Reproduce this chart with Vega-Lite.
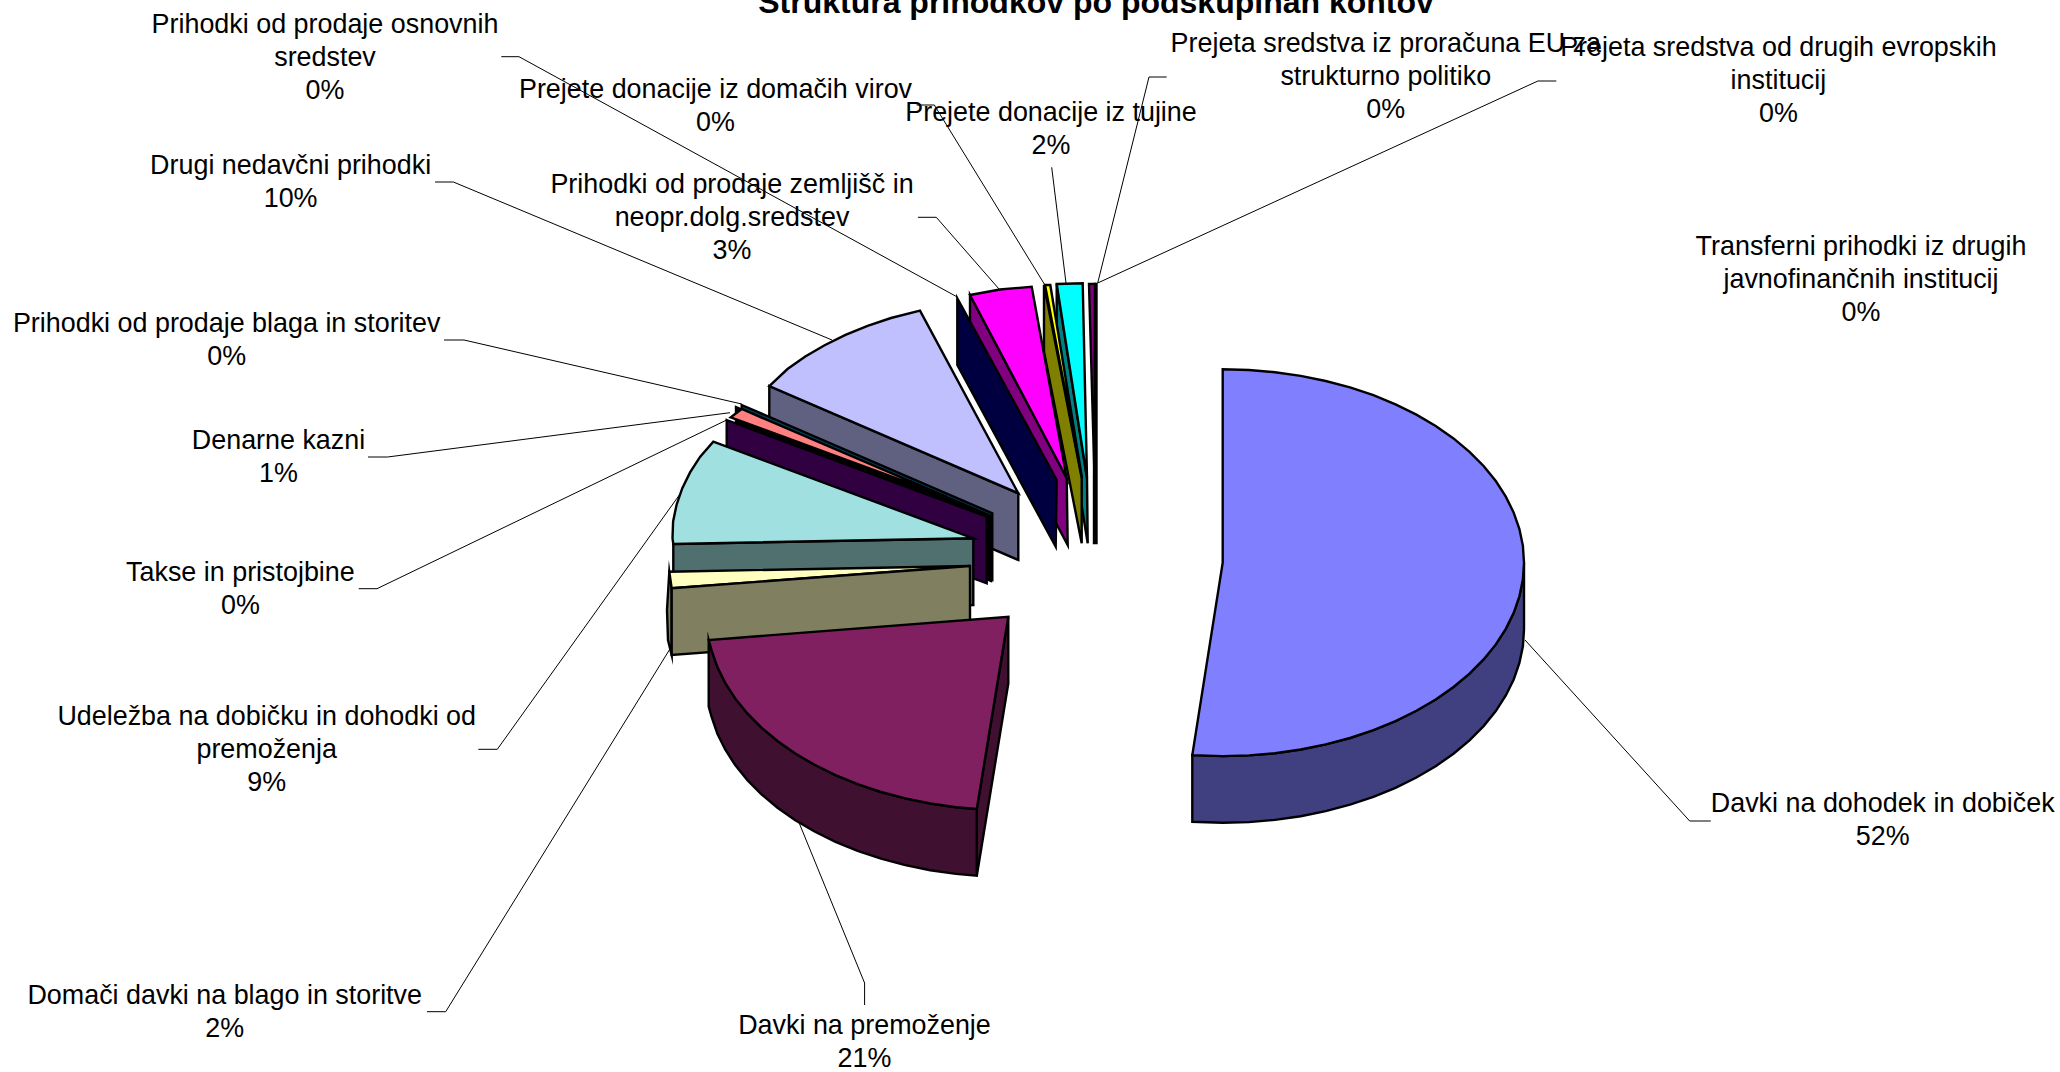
{"$schema":"https://vega.github.io/schema/vega-lite/v6.json","width":2060,"height":1072,"autosize":"none","padding":0,"background":"white","view":{"stroke":null},
"datasets":{
"labels":[
{"name":"Davki na dohodek in dobiček","pct":52,"label":"Davki na dohodek in dobiček\n52%","x":1882.7,"y":791},
{"name":"Davki na premoženje","pct":21,"label":"Davki na premoženje\n21%","x":864.5,"y":1013},
{"name":"Domači davki na blago in storitve","pct":2,"label":"Domači davki na blago in storitve\n2%","x":224.7,"y":983},
{"name":"Udeležba na dobičku in dohodki od premoženja","pct":9,"label":"Udeležba na dobičku in dohodki od\npremoženja\n9%","x":266.7,"y":704},
{"name":"Takse in pristojbine","pct":0,"label":"Takse in pristojbine\n0%","x":240.4,"y":559.5},
{"name":"Denarne kazni","pct":1,"label":"Denarne kazni\n1%","x":278.5,"y":428},
{"name":"Prihodki od prodaje blaga in storitev","pct":0,"label":"Prihodki od prodaje blaga in storitev\n0%","x":226.7,"y":311},
{"name":"Drugi nedavčni prihodki","pct":10,"label":"Drugi nedavčni prihodki\n10%","x":290.6,"y":153},
{"name":"Prihodki od prodaje osnovnih sredstev","pct":0,"label":"Prihodki od prodaje osnovnih\nsredstev\n0%","x":325,"y":11.5},
{"name":"Prihodki od prodaje zemljišč in neopr.dolg.sredstev","pct":3,"label":"Prihodki od prodaje zemljišč in\nneopr.dolg.sredstev\n3%","x":732,"y":172},
{"name":"Prejete donacije iz domačih virov","pct":0,"label":"Prejete donacije iz domačih virov\n0%","x":715.5,"y":77},
{"name":"Prejete donacije iz tujine","pct":2,"label":"Prejete donacije iz tujine\n2%","x":1051,"y":100},
{"name":"Prejeta sredstva iz proračuna EU za strukturno politiko","pct":0,"label":"Prejeta sredstva iz proračuna EU za\nstrukturno politiko\n0%","x":1385.8,"y":31},
{"name":"Prejeta sredstva od drugih evropskih institucij","pct":0,"label":"Prejeta sredstva od drugih evropskih\ninstitucij\n0%","x":1778.4,"y":35},
{"name":"Transferni prihodki iz drugih javnofinančnih institucij","pct":0,"label":"Transferni prihodki iz drugih\njavnofinančnih institucij\n0%","x":1861,"y":234}
],
"leaders":[
{"k":"a","i":1,"x":1710.8,"y":821},{"k":"a","i":2,"x":1689.7,"y":821},{"k":"a","i":3,"x":1525,"y":640},
{"k":"b","i":1,"x":864.6,"y":1005},{"k":"b","i":2,"x":864.6,"y":983},{"k":"b","i":3,"x":799.3,"y":823.3},
{"k":"c","i":1,"x":427,"y":1011.7},{"k":"c","i":2,"x":445.7,"y":1011.7},{"k":"c","i":3,"x":669.3,"y":650},
{"k":"d","i":1,"x":478.3,"y":749.3},{"k":"d","i":2,"x":497.3,"y":749.3},{"k":"d","i":3,"x":681.7,"y":491.7},
{"k":"e","i":1,"x":358.7,"y":588.7},{"k":"e","i":2,"x":377,"y":588.7},{"k":"e","i":3,"x":726.7,"y":420},
{"k":"f","i":1,"x":368,"y":457},{"k":"f","i":2,"x":387.6,"y":457},{"k":"f","i":3,"x":730,"y":412.7},
{"k":"g","i":1,"x":444,"y":340},{"k":"g","i":2,"x":464,"y":340},{"k":"g","i":3,"x":741.7,"y":404},
{"k":"h","i":1,"x":435,"y":182},{"k":"h","i":2,"x":453.4,"y":182},{"k":"h","i":3,"x":832,"y":340},
{"k":"j","i":1,"x":501.3,"y":56.7},{"k":"j","i":2,"x":519,"y":56.7},{"k":"j","i":3,"x":957.3,"y":297},
{"k":"l","i":1,"x":917.9,"y":217.3},{"k":"l","i":2,"x":936.3,"y":217.3},{"k":"l","i":3,"x":999,"y":289},
{"k":"m","i":1,"x":916.6,"y":105},{"k":"m","i":2,"x":934.3,"y":105},{"k":"m","i":3,"x":1044.3,"y":284},
{"k":"n","i":1,"x":1051.7,"y":167.3},{"k":"n","i":2,"x":1066,"y":283},
{"k":"o","i":1,"x":1166.7,"y":77},{"k":"o","i":2,"x":1149,"y":77},{"k":"o","i":3,"x":1097.7,"y":283},
{"k":"p","i":1,"x":1556.3,"y":81},{"k":"p","i":2,"x":1537.9,"y":81},{"k":"p","i":3,"x":1097.7,"y":283}
],
"shapes":[
{"part":"drugi_rob","i":1,"x":769.3,"y":386},{"part":"drugi_rob","i":2,"x":1018.3,"y":493.3},{"part":"drugi_rob","i":3,"x":1018.3,"y":560},{"part":"drugi_rob","i":4,"x":769.3,"y":452.7},
{"part":"drugi_vrh","i":1,"x":1018.3,"y":493.3},{"part":"drugi_vrh","i":2,"x":920,"y":310.7},{"part":"drugi_vrh","i":3,"x":891,"y":318},{"part":"drugi_vrh","i":4,"x":867.6,"y":325.8},{"part":"drugi_vrh","i":5,"x":845.5,"y":334.9},{"part":"drugi_vrh","i":6,"x":824.6,"y":345.2},{"part":"drugi_vrh","i":7,"x":805.3,"y":356.5},{"part":"drugi_vrh","i":8,"x":787.5,"y":369},{"part":"drugi_vrh","i":9,"x":769.3,"y":386},
{"part":"blaga_rob","i":1,"x":741.7,"y":405},{"part":"blaga_rob","i":2,"x":992.3,"y":513.3},{"part":"blaga_rob","i":3,"x":992.3,"y":580},{"part":"blaga_rob","i":4,"x":741.7,"y":471.7},
{"part":"kazni_rob","i":1,"x":736,"y":407},{"part":"kazni_rob","i":2,"x":991,"y":516},{"part":"kazni_rob","i":3,"x":991,"y":581},{"part":"kazni_rob","i":4,"x":736,"y":478},
{"part":"kazni_vrh","i":1,"x":741.7,"y":409},{"part":"kazni_vrh","i":2,"x":730.7,"y":417.3},{"part":"kazni_vrh","i":3,"x":946.7,"y":497},
{"part":"takse_rob","i":1,"x":726.7,"y":420},{"part":"takse_rob","i":2,"x":986.7,"y":516.7},{"part":"takse_rob","i":3,"x":986.7,"y":583.3},{"part":"takse_rob","i":4,"x":726.7,"y":486.7},
{"part":"udelezba_rob","i":1,"x":673.3,"y":544},{"part":"udelezba_rob","i":2,"x":973.3,"y":538.3},{"part":"udelezba_rob","i":3,"x":973.3,"y":605},{"part":"udelezba_rob","i":4,"x":673.3,"y":610.7},
{"part":"udelezba_vrh","i":1,"x":973.3,"y":538.3},{"part":"udelezba_vrh","i":2,"x":713.3,"y":441.7},{"part":"udelezba_vrh","i":3,"x":700.2,"y":456.6},{"part":"udelezba_vrh","i":4,"x":690.2,"y":472.2},{"part":"udelezba_vrh","i":5,"x":682.3,"y":488.2},{"part":"udelezba_vrh","i":6,"x":676.6,"y":504.7},{"part":"udelezba_vrh","i":7,"x":673.1,"y":521.4},{"part":"udelezba_vrh","i":8,"x":672.5,"y":538.3},{"part":"udelezba_vrh","i":9,"x":673.3,"y":544},
{"part":"domaci_lok","i":1,"x":669.3,"y":571.7},{"part":"domaci_lok","i":2,"x":671.7,"y":588.3},{"part":"domaci_lok","i":3,"x":671.7,"y":655},{"part":"domaci_lok","i":4,"x":668,"y":640},{"part":"domaci_lok","i":5,"x":667,"y":610},
{"part":"domaci_vrh","i":1,"x":970,"y":566},{"part":"domaci_vrh","i":2,"x":669.3,"y":571.7},{"part":"domaci_vrh","i":3,"x":671.7,"y":588.3},
{"part":"domaci_rob","i":1,"x":671.7,"y":588.3},{"part":"domaci_rob","i":2,"x":970,"y":566},{"part":"domaci_rob","i":3,"x":970,"y":632.7},{"part":"domaci_rob","i":4,"x":671.7,"y":655},
{"part":"premozenje_notr","i":1,"x":1008.3,"y":616.7},{"part":"premozenje_notr","i":2,"x":1008.3,"y":683.4},{"part":"premozenje_notr","i":3,"x":976.8,"y":875.7},{"part":"premozenje_notr","i":4,"x":976.8,"y":809},
{"part":"premozenje_rob","i":1,"x":708.7,"y":640},{"part":"premozenje_rob","i":2,"x":711.6,"y":650.3},{"part":"premozenje_rob","i":3,"x":717.3,"y":666.8},{"part":"premozenje_rob","i":4,"x":725.2,"y":682.8},{"part":"premozenje_rob","i":5,"x":735.2,"y":698.4},{"part":"premozenje_rob","i":6,"x":747.4,"y":713.4},{"part":"premozenje_rob","i":7,"x":761.5,"y":727.6},{"part":"premozenje_rob","i":8,"x":777.5,"y":741},{"part":"premozenje_rob","i":9,"x":795.3,"y":753.5},{"part":"premozenje_rob","i":10,"x":814.6,"y":764.8},{"part":"premozenje_rob","i":11,"x":835.5,"y":775.1},{"part":"premozenje_rob","i":12,"x":857.6,"y":784.2},{"part":"premozenje_rob","i":13,"x":881,"y":792},{"part":"premozenje_rob","i":14,"x":905.3,"y":798.4},{"part":"premozenje_rob","i":15,"x":930.3,"y":803.5},{"part":"premozenje_rob","i":16,"x":956,"y":807.2},{"part":"premozenje_rob","i":17,"x":976.8,"y":809},{"part":"premozenje_rob","i":18,"x":976.8,"y":875.7},{"part":"premozenje_rob","i":19,"x":956,"y":873.9},{"part":"premozenje_rob","i":20,"x":930.3,"y":870.2},{"part":"premozenje_rob","i":21,"x":905.3,"y":865.1},{"part":"premozenje_rob","i":22,"x":881,"y":858.7},{"part":"premozenje_rob","i":23,"x":857.6,"y":850.9},{"part":"premozenje_rob","i":24,"x":835.5,"y":841.8},{"part":"premozenje_rob","i":25,"x":814.6,"y":831.5},{"part":"premozenje_rob","i":26,"x":795.3,"y":820.2},{"part":"premozenje_rob","i":27,"x":777.5,"y":807.7},{"part":"premozenje_rob","i":28,"x":761.5,"y":794.3},{"part":"premozenje_rob","i":29,"x":747.4,"y":780.1},{"part":"premozenje_rob","i":30,"x":735.2,"y":765.1},{"part":"premozenje_rob","i":31,"x":725.2,"y":749.5},{"part":"premozenje_rob","i":32,"x":717.3,"y":733.5},{"part":"premozenje_rob","i":33,"x":711.6,"y":717},{"part":"premozenje_rob","i":34,"x":708.7,"y":706.7},
{"part":"premozenje_vrh","i":1,"x":1008.3,"y":616.7},{"part":"premozenje_vrh","i":2,"x":976.8,"y":809},{"part":"premozenje_vrh","i":3,"x":956,"y":807.2},{"part":"premozenje_vrh","i":4,"x":930.3,"y":803.5},{"part":"premozenje_vrh","i":5,"x":905.3,"y":798.4},{"part":"premozenje_vrh","i":6,"x":881,"y":792},{"part":"premozenje_vrh","i":7,"x":857.6,"y":784.2},{"part":"premozenje_vrh","i":8,"x":835.5,"y":775.1},{"part":"premozenje_vrh","i":9,"x":814.6,"y":764.8},{"part":"premozenje_vrh","i":10,"x":795.3,"y":753.5},{"part":"premozenje_vrh","i":11,"x":777.5,"y":741},{"part":"premozenje_vrh","i":12,"x":761.5,"y":727.6},{"part":"premozenje_vrh","i":13,"x":747.4,"y":713.4},{"part":"premozenje_vrh","i":14,"x":735.2,"y":698.4},{"part":"premozenje_vrh","i":15,"x":725.2,"y":682.8},{"part":"premozenje_vrh","i":16,"x":717.3,"y":666.8},{"part":"premozenje_vrh","i":17,"x":711.6,"y":650.3},{"part":"premozenje_vrh","i":18,"x":708.7,"y":640},
{"part":"eu_rob","i":1,"x":1095,"y":284},{"part":"eu_rob","i":2,"x":1096.5,"y":284},{"part":"eu_rob","i":3,"x":1096.5,"y":543},{"part":"eu_rob","i":4,"x":1094,"y":543},{"part":"eu_rob","i":5,"x":1094,"y":478},
{"part":"eu_vrh","i":1,"x":1089,"y":284},{"part":"eu_vrh","i":2,"x":1095,"y":284},{"part":"eu_vrh","i":3,"x":1094.5,"y":478},
{"part":"tujina_rob","i":1,"x":1056.7,"y":284},{"part":"tujina_rob","i":2,"x":1087,"y":478},{"part":"tujina_rob","i":3,"x":1087.7,"y":543.3},{"part":"tujina_rob","i":4,"x":1056.7,"y":350},
{"part":"tujina_vrh","i":1,"x":1056.7,"y":284},{"part":"tujina_vrh","i":2,"x":1082.7,"y":283.3},{"part":"tujina_vrh","i":3,"x":1087,"y":478},
{"part":"domace_rob","i":1,"x":1044,"y":285},{"part":"domace_rob","i":2,"x":1081.7,"y":478},{"part":"domace_rob","i":3,"x":1081.7,"y":543.3},{"part":"domace_rob","i":4,"x":1044,"y":351.7},
{"part":"domace_vrh","i":1,"x":1045,"y":285},{"part":"domace_vrh","i":2,"x":1050.3,"y":285},{"part":"domace_vrh","i":3,"x":1082,"y":478},
{"part":"zemljisca_rob","i":1,"x":970,"y":295},{"part":"zemljisca_rob","i":2,"x":1066.7,"y":478},{"part":"zemljisca_rob","i":3,"x":1067.7,"y":545},{"part":"zemljisca_rob","i":4,"x":970,"y":362},
{"part":"zemljisca_vrh","i":1,"x":970,"y":295},{"part":"zemljisca_vrh","i":2,"x":1000,"y":289.5},{"part":"zemljisca_vrh","i":3,"x":1031.7,"y":286.7},{"part":"zemljisca_vrh","i":4,"x":1066.7,"y":478},
{"part":"osnovna_rob","i":1,"x":957.3,"y":298.3},{"part":"osnovna_rob","i":2,"x":1056.7,"y":480},{"part":"osnovna_rob","i":3,"x":1055.7,"y":546.7},{"part":"osnovna_rob","i":4,"x":957.3,"y":365},
{"part":"dohodek_rob","i":1,"x":1524,"y":562.7},{"part":"dohodek_rob","i":2,"x":1522.9,"y":579.6},{"part":"dohodek_rob","i":3,"x":1519.4,"y":596.3},{"part":"dohodek_rob","i":4,"x":1513.7,"y":612.8},{"part":"dohodek_rob","i":5,"x":1505.8,"y":628.8},{"part":"dohodek_rob","i":6,"x":1495.8,"y":644.4},{"part":"dohodek_rob","i":7,"x":1483.6,"y":659.4},{"part":"dohodek_rob","i":8,"x":1469.5,"y":673.6},{"part":"dohodek_rob","i":9,"x":1453.5,"y":687},{"part":"dohodek_rob","i":10,"x":1435.7,"y":699.5},{"part":"dohodek_rob","i":11,"x":1416.4,"y":710.8},{"part":"dohodek_rob","i":12,"x":1395.5,"y":721.1},{"part":"dohodek_rob","i":13,"x":1373.4,"y":730.2},{"part":"dohodek_rob","i":14,"x":1350,"y":738},{"part":"dohodek_rob","i":15,"x":1325.7,"y":744.4},{"part":"dohodek_rob","i":16,"x":1300.7,"y":749.5},{"part":"dohodek_rob","i":17,"x":1275,"y":753.2},{"part":"dohodek_rob","i":18,"x":1249,"y":755.4},{"part":"dohodek_rob","i":19,"x":1222.7,"y":756.1},{"part":"dohodek_rob","i":20,"x":1192.3,"y":755.1},{"part":"dohodek_rob","i":21,"x":1192.3,"y":821.8},{"part":"dohodek_rob","i":22,"x":1222.7,"y":822.8},{"part":"dohodek_rob","i":23,"x":1249,"y":822.1},{"part":"dohodek_rob","i":24,"x":1275,"y":819.9},{"part":"dohodek_rob","i":25,"x":1300.7,"y":816.2},{"part":"dohodek_rob","i":26,"x":1325.7,"y":811.1},{"part":"dohodek_rob","i":27,"x":1350,"y":804.7},{"part":"dohodek_rob","i":28,"x":1373.4,"y":796.9},{"part":"dohodek_rob","i":29,"x":1395.5,"y":787.8},{"part":"dohodek_rob","i":30,"x":1416.4,"y":777.5},{"part":"dohodek_rob","i":31,"x":1435.7,"y":766.2},{"part":"dohodek_rob","i":32,"x":1453.5,"y":753.7},{"part":"dohodek_rob","i":33,"x":1469.5,"y":740.3},{"part":"dohodek_rob","i":34,"x":1483.6,"y":726.1},{"part":"dohodek_rob","i":35,"x":1495.8,"y":711.1},{"part":"dohodek_rob","i":36,"x":1505.8,"y":695.5},{"part":"dohodek_rob","i":37,"x":1513.7,"y":679.5},{"part":"dohodek_rob","i":38,"x":1519.4,"y":663},{"part":"dohodek_rob","i":39,"x":1522.9,"y":646.3},{"part":"dohodek_rob","i":40,"x":1524,"y":629.4},
{"part":"dohodek_vrh","i":1,"x":1222.7,"y":562.7},{"part":"dohodek_vrh","i":2,"x":1222.7,"y":369.3},{"part":"dohodek_vrh","i":3,"x":1249,"y":370},{"part":"dohodek_vrh","i":4,"x":1275,"y":372.2},{"part":"dohodek_vrh","i":5,"x":1300.7,"y":375.9},{"part":"dohodek_vrh","i":6,"x":1325.7,"y":381},{"part":"dohodek_vrh","i":7,"x":1350,"y":387.4},{"part":"dohodek_vrh","i":8,"x":1373.4,"y":395.2},{"part":"dohodek_vrh","i":9,"x":1395.5,"y":404.3},{"part":"dohodek_vrh","i":10,"x":1416.4,"y":414.6},{"part":"dohodek_vrh","i":11,"x":1435.7,"y":425.9},{"part":"dohodek_vrh","i":12,"x":1453.5,"y":438.4},{"part":"dohodek_vrh","i":13,"x":1469.5,"y":451.8},{"part":"dohodek_vrh","i":14,"x":1483.6,"y":466},{"part":"dohodek_vrh","i":15,"x":1495.8,"y":481},{"part":"dohodek_vrh","i":16,"x":1505.8,"y":496.6},{"part":"dohodek_vrh","i":17,"x":1513.7,"y":512.6},{"part":"dohodek_vrh","i":18,"x":1519.4,"y":529.1},{"part":"dohodek_vrh","i":19,"x":1522.9,"y":545.8},{"part":"dohodek_vrh","i":20,"x":1524,"y":562.7},{"part":"dohodek_vrh","i":21,"x":1522.9,"y":579.6},{"part":"dohodek_vrh","i":22,"x":1519.4,"y":596.3},{"part":"dohodek_vrh","i":23,"x":1513.7,"y":612.8},{"part":"dohodek_vrh","i":24,"x":1505.8,"y":628.8},{"part":"dohodek_vrh","i":25,"x":1495.8,"y":644.4},{"part":"dohodek_vrh","i":26,"x":1483.6,"y":659.4},{"part":"dohodek_vrh","i":27,"x":1469.5,"y":673.6},{"part":"dohodek_vrh","i":28,"x":1453.5,"y":687},{"part":"dohodek_vrh","i":29,"x":1435.7,"y":699.5},{"part":"dohodek_vrh","i":30,"x":1416.4,"y":710.8},{"part":"dohodek_vrh","i":31,"x":1395.5,"y":721.1},{"part":"dohodek_vrh","i":32,"x":1373.4,"y":730.2},{"part":"dohodek_vrh","i":33,"x":1350,"y":738},{"part":"dohodek_vrh","i":34,"x":1325.7,"y":744.4},{"part":"dohodek_vrh","i":35,"x":1300.7,"y":749.5},{"part":"dohodek_vrh","i":36,"x":1275,"y":753.2},{"part":"dohodek_vrh","i":37,"x":1249,"y":755.4},{"part":"dohodek_vrh","i":38,"x":1222.7,"y":756.1},{"part":"dohodek_vrh","i":39,"x":1192.3,"y":755.1}
],
"heading":[{"text":"Struktura prihodkov po podskupinah kontov","x":1096,"y":13.3}]
},
"layer":[
{"data":{"name":"leaders"},"mark":{"type":"line","stroke":"black","strokeWidth":1},"encoding":{"x":{"field":"x","type":"quantitative","scale":{"domain":[0,2060],"nice":false,"zero":false},"axis":null},"y":{"field":"y","type":"quantitative","scale":{"domain":[1072,0],"nice":false,"zero":false},"axis":null},"detail":{"field":"k"},"order":{"field":"i"}}},
{"data":{"name":"shapes"},"mark":{"type":"line","filled":true,"interpolate":"linear-closed","stroke":"black","strokeWidth":2.4,"strokeJoin":"miter","strokeMiterLimit":10,"opacity":1},"encoding":{"x":{"field":"x","type":"quantitative","scale":{"domain":[0,2060],"nice":false,"zero":false},"axis":null},"y":{"field":"y","type":"quantitative","scale":{"domain":[1072,0],"nice":false,"zero":false},"axis":null},"order":{"field":"i"},"fill":{"field":"part","type":"nominal","legend":null,"scale":{"domain":["drugi_rob","drugi_vrh","blaga_rob","kazni_rob","kazni_vrh","takse_rob","udelezba_rob","udelezba_vrh","domaci_lok","domaci_vrh","domaci_rob","premozenje_notr","premozenje_rob","premozenje_vrh","eu_rob","eu_vrh","tujina_rob","tujina_vrh","domace_rob","domace_vrh","zemljisca_rob","zemljisca_vrh","osnovna_rob","dohodek_rob","dohodek_vrh"],"range":["#606080","#C0C0FF","#004060","#000000","#FF8080","#300040","#507070","#A0E0E0","#808060","#FFFFC0","#808060","#401030","#401030","#802060","#000000","#800080","#008080","#00FFFF","#808000","#FFFF00","#800080","#FF00FF","#000040","#404080","#8080FF"]}}}},
{"data":{"name":"labels"},"mark":{"type":"text","font":"Liberation Sans","fontSize":26.9,"lineHeight":33,"lineBreak":"\n","align":"center","baseline":"top","color":"black"},"encoding":{"x":{"field":"x","type":"quantitative","scale":{"domain":[0,2060],"nice":false,"zero":false},"axis":null},"y":{"field":"y","type":"quantitative","scale":{"domain":[1072,0],"nice":false,"zero":false},"axis":null},"text":{"field":"label"}}},
{"data":{"name":"heading"},"mark":{"type":"text","font":"Liberation Sans","fontSize":32,"fontWeight":"bold","align":"center","baseline":"alphabetic","color":"black"},"encoding":{"x":{"field":"x","type":"quantitative","scale":{"domain":[0,2060],"nice":false,"zero":false},"axis":null},"y":{"field":"y","type":"quantitative","scale":{"domain":[1072,0],"nice":false,"zero":false},"axis":null},"text":{"field":"text"}}}
]}
